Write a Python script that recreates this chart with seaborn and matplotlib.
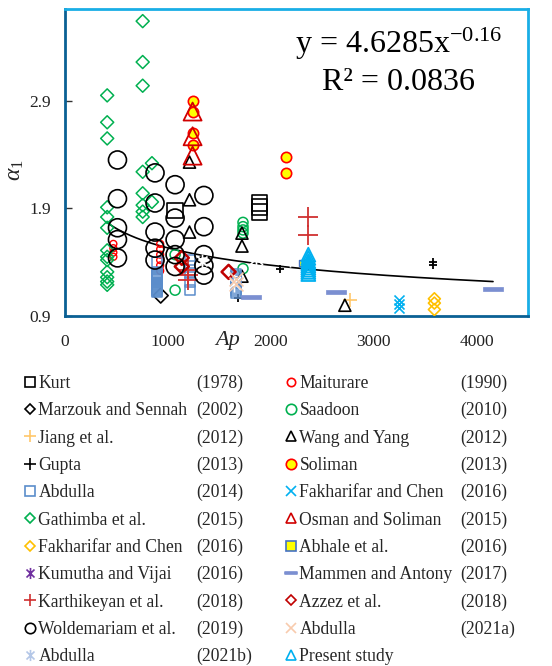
import numpy as np
import pandas as pd
import matplotlib
matplotlib.use("Agg")
import matplotlib.pyplot as plt
import seaborn as sns
from matplotlib.path import Path
from matplotlib.lines import Line2D

# ---------------- data ----------------
kurt_x = [1070, 1890, 1890, 1890]
kurt_y = [1.88, 1.87, 1.91, 1.95]

maiturare_x = [470, 470, 470, 470, 925, 925, 925, 925, 925, 925]
maiturare_y = [1.57, 1.53, 1.49, 1.45, 1.57, 1.52, 1.47, 1.42, 1.37, 1.32]

marzouk_x = [930]
marzouk_y = [1.09]

saadoon_x = [1730, 1730, 1730, 1730, 1730, 1070, 1070]
saadoon_y = [1.77, 1.73, 1.70, 1.67, 1.34, 1.47, 1.14]

jiang_x = [2770]
jiang_y = [1.05]

wang_x = [1210, 1210, 1210, 1720, 1720, 1720, 2720]
wang_y = [2.33, 1.98, 1.68, 1.67, 1.55, 1.27, 1.00]

gupta_x = [2090, 3580, 3580, 1680]
gupta_y = [1.34, 1.37, 1.40, 1.07]

soliman_x = [1240, 1240, 1240, 1240, 2150, 2150]
soliman_y = [2.90, 2.80, 2.60, 2.49, 2.38, 2.23]

abdulla14_x = [890, 890, 890, 890, 890, 890, 890, 890, 890, 890, 890, 890, 890, 890, 890, 890, 890, 890, 890, 890,
               1215, 1215, 1215, 1215, 1215,
               1660, 1660, 1660, 1660, 1660, 1660, 1660, 1660, 1660, 1660]
abdulla14_y = [1.40, 1.30, 1.29, 1.28, 1.27, 1.26, 1.25, 1.24, 1.23, 1.22, 1.21, 1.20, 1.19, 1.18, 1.17, 1.16, 1.15, 1.14, 1.13, 1.12,
               1.42, 1.36, 1.30, 1.22, 1.14,
               1.29, 1.27, 1.25, 1.23, 1.21, 1.19, 1.17, 1.15, 1.13, 1.11]

fakh_x_x = [3250, 3250, 3250]
fakh_x_y = [0.97, 1.01, 1.05]

gathimba_x = [410] * 13 + [755] * 8 + [845, 845]
gathimba_y = [2.95, 2.70, 2.55, 1.91, 1.82, 1.72, 1.51, 1.45, 1.42, 1.31, 1.26, 1.22, 1.19,
              3.64, 3.26, 3.04, 2.24, 2.04, 1.93, 1.87, 1.82,
              2.32, 1.96]

osman_x = [1240, 1240, 1240]
osman_y = [2.80, 2.57, 2.39]

fakh_d_x = [3590, 3590, 3590]
fakh_d_y = [1.06, 1.02, 0.96]

abhale_x = [2300]
abhale_y = [1.39]

kumutha_x = [1410, 1640, 1860, 2190]
kumutha_y = [1.20, 1.21, 1.44, 1.44]

mammen_x = [1810, 2630, 4160]
mammen_y = [1.08, 1.12, 1.15]

karthik_x = [2360, 2360, 1200, 1200, 1200]
karthik_y = [1.82, 1.65, 1.33, 1.28, 1.23]

azzez_x = [1135, 1135, 1590]
azzez_y = [1.44, 1.36, 1.31]

wolde_x = [510] * 5 + [875] * 5 + [1070] * 5 + [1350] * 5
wolde_y = [2.35, 1.99, 1.72, 1.61, 1.44,
           2.23, 1.95, 1.68, 1.53, 1.42,
           2.12, 1.81, 1.61, 1.47, 1.36,
           2.02, 1.73, 1.47, 1.37, 1.28]

abdulla21a_x = [1665, 1665]
abdulla21a_y = [1.24, 1.20]

abdulla21b_x = [1330]
abdulla21b_y = [1.41]

present_x = [2365] * 9
present_y = [1.47, 1.44, 1.41, 1.39, 1.37, 1.35, 1.33, 1.31, 1.29]

TREND_A = 4.6285
TREND_B = -0.16
TREND_R2 = 0.0836

x_ticks = [0, 1000, 2000, 3000, 4000]
y_ticks = [0.9, 1.9, 2.9]

# ---------------- styling ----------------
sns.set_theme(style="white")
plt.rcParams["font.family"] = ["Liberation Serif", "DejaVu Serif"]
plt.rcParams["mathtext.fontset"] = "custom"
plt.rcParams["mathtext.rm"] = "Liberation Serif"
plt.rcParams["mathtext.it"] = "Liberation Serif:italic"
plt.rcParams["mathtext.bf"] = "Liberation Serif:bold"

ASTER = Path([(0, -1), (0, 1), (-0.72, -0.72), (0.72, 0.72), (-0.72, 0.72), (0.72, -0.72)],
             [Path.MOVETO, Path.LINETO, Path.MOVETO, Path.LINETO, Path.MOVETO, Path.LINETO])
DASH = Path([(-1, -0.22), (1, -0.22), (1, 0.22), (-1, 0.22), (-1, -0.22)],
            [Path.MOVETO, Path.LINETO, Path.LINETO, Path.LINETO, Path.CLOSEPOLY])

# label, year, x, y, marker, size, face, edge, lw, legend markersize
series = [
    ("Kurt", "(1978)", kurt_x, kurt_y, "s", 130, "none", "black", 1.2, 7.5),
    ("Maiturare", "(1990)", maiturare_x, maiturare_y, "o", 25, "none", "#FF0000", 1.0, 6.0),
    ("Marzouk and Sennah", "(2002)", marzouk_x, marzouk_y, "D", 58, "none", "black", 1.2, 5.3),
    ("Saadoon", "(2010)", saadoon_x, saadoon_y, "o", 52, "none", "#00B050", 1.1, 7.5),
    ("Jiang et al.", "(2012)", jiang_x, jiang_y, "+", 90, "#FFC76B", "#FFC76B", 1.2, 8.0),
    ("Wang and Yang", "(2012)", wang_x, wang_y, "^", 75, "none", "black", 1.2, 7.5),
    ("Gupta", "(2013)", gupta_x, gupta_y, "+", 40, "black", "black", 1.3, 8.0),
    ("Soliman", "(2013)", soliman_x, soliman_y, "o", 55, "#FFFF00", "#FF0000", 1.2, 7.5),
    ("Abdulla", "(2014)", abdulla14_x, abdulla14_y, "s", 52, "none", "#5B8DCB", 1.1, 7.5),
    ("Fakharifar and Chen", "(2016)", fakh_x_x, fakh_x_y, "x", 52, "#00B0F0", "#00B0F0", 1.2, 7.5),
    ("Gathimba et al.", "(2015)", gathimba_x, gathimba_y, "D", 44, "none", "#00B050", 1.1, 5.3),
    ("Osman and Soliman", "(2015)", osman_x, osman_y, "^", 168, "none", "#D00000", 1.3, 7.5),
    ("Fakharifar and Chen", "(2016)", fakh_d_x, fakh_d_y, "D", 37, "none", "#FFC000", 1.2, 5.3),
    ("Abhale et al.", "(2016)", abhale_x, abhale_y, "s", 20, "#FFFF00", "#4472C4", 1.0, 6.5),
    ("Kumutha and Vijai", "(2016)", kumutha_x, kumutha_y, ASTER, 168, "none", "#7030A0", 1.2, 8.0),
    ("Mammen and Antony", "(2017)", mammen_x, mammen_y, DASH, 207, "#7B8FD1", "#7B8FD1", 0.5, 8.0),
    ("Karthikeyan et al.", "(2018)", karthik_x, karthik_y, "+", 207, "#D03030", "#D03030", 1.3, 8.0),
    ("Azzez et al.", "(2018)", azzez_x, azzez_y, "D", 51, "none", "#C00000", 1.8, 5.3),
    ("Woldemariam et al.", "(2019)", wolde_x, wolde_y, "o", 168, "none", "black", 1.2, 7.5),
    ("Abdulla", "(2021a)", abdulla21a_x, abdulla21a_y, "x", 100, "#F8CBAD", "#F8CBAD", 1.2, 7.5),
    ("Abdulla", "(2021b)", abdulla21b_x, abdulla21b_y, ASTER, 100, "none", "#B4C7E7", 1.2, 8.0),
    ("Present study", "", present_x, present_y, "^", 100, "none", "#00B0F0", 1.3, 7.5),
]

W, H = 552, 666
fig = plt.figure(figsize=(W / 100, H / 100), dpi=100)
ax_l, ax_r, ax_t, ax_b = 65, 528, 9.3, 316
ax = fig.add_axes([ax_l / W, 1 - ax_b / H, (ax_r - ax_l) / W, (ax_b - ax_t) / H])

handles = []
for (lab, yr, xs, ys, mk, s, fc, ec, lw, lms) in series:
    df = pd.DataFrame({"Ap": xs, "a1": ys})
    line_art = mk in ("+", "x") or mk is ASTER
    if line_art:
        sns.scatterplot(data=df, x="Ap", y="a1", ax=ax, marker=mk, s=s,
                        color=ec, linewidth=lw, legend=False, zorder=3)
    else:
        sns.scatterplot(data=df, x="Ap", y="a1", ax=ax, marker=mk, s=s,
                        facecolor=fc, edgecolor=ec, linewidth=lw, legend=False, zorder=3)
    handles.append(Line2D([], [], linestyle="none", marker=mk, markersize=lms,
                          markerfacecolor=(fc if not line_art else "none"),
                          markeredgecolor=ec, markeredgewidth=1.2))

# power trendline from the fitted equation
all_x = np.concatenate([np.asarray(s[2], float) for s in series])
tx = np.linspace(all_x.min(), all_x.max(), 200)
sns.lineplot(x=tx, y=TREND_A * tx ** TREND_B, ax=ax, color="black", linewidth=1.2, zorder=2)

ax.set_xlim(0, 4500)
ax.set_ylim(0.9, 3.75)
ax.set_xticks(x_ticks)
ax.set_yticks(y_ticks)
ax.set_xticklabels([str(v) for v in x_ticks])
ax.set_yticklabels([f"{v:.1f}" for v in y_ticks])
ax.tick_params(axis="x", length=0, pad=13, labelsize=12.5, labelcolor="#222222")
ax.tick_params(axis="y", direction="in", length=5, width=1, color="#333333",
               pad=10, labelsize=12.5, labelcolor="#222222", left=True)
ax.set_xlabel("")
ax.set_ylabel("")
ax.grid(False)
for side in ("top", "right"):
    ax.spines[side].set_color("#19AEE6")
    ax.spines[side].set_linewidth(2)
for side in ("left", "bottom"):
    ax.spines[side].set_color("#0A6094")
    ax.spines[side].set_linewidth(2)

# equation
fig.text(399 / W, 1 - 44 / H, f"y = {TREND_A}x$^{{{TREND_B}}}$", ha="center", va="center",
         fontsize=23, color="black")
fig.text(399 / W, 1 - 82 / H, f"R² = {TREND_R2}", ha="center", va="center",
         fontsize=23, color="black")

# axis labels
fig.text(228 / W, 1 - 345 / H, "Ap", ha="center", va="baseline", fontsize=16, style="italic")
fig.text(15 / W, 1 - 170 / H, r"$\alpha_{1}$", ha="center", va="center", fontsize=17, rotation=90)

# legends (two columns, row-major order)
left_idx = list(range(0, len(series), 2))
right_idx = list(range(1, len(series), 2))
leg_kw = dict(loc="upper left", frameon=False, fontsize=12.7, handlelength=0.7,
              handletextpad=0.15, labelspacing=0.585, borderpad=0, borderaxespad=0)
leg1 = fig.legend([handles[i] for i in left_idx], [series[i][0] for i in left_idx],
                  bbox_to_anchor=(23.5 / W, 1 - 375 / H), **leg_kw)
leg2 = fig.legend([handles[i] for i in right_idx], [series[i][0] for i in right_idx],
                  bbox_to_anchor=(284.5 / W, 1 - 375 / H), **leg_kw)

# years, aligned with the legend rows
fig.canvas.draw()
inv = fig.transFigure.inverted()
for leg, idx, xpos in ((leg1, left_idx, 196), (leg2, right_idx, 460)):
    for txt, i in zip(leg.get_texts(), idx):
        if not series[i][1]:
            continue
        bb = txt.get_window_extent()
        _, yfig = inv.transform((0, (bb.y0 + bb.y1) / 2))
        fig.text(xpos / W, yfig, series[i][1], ha="left", va="center", fontsize=12.7)

fig.savefig("out.png", dpi=100)
